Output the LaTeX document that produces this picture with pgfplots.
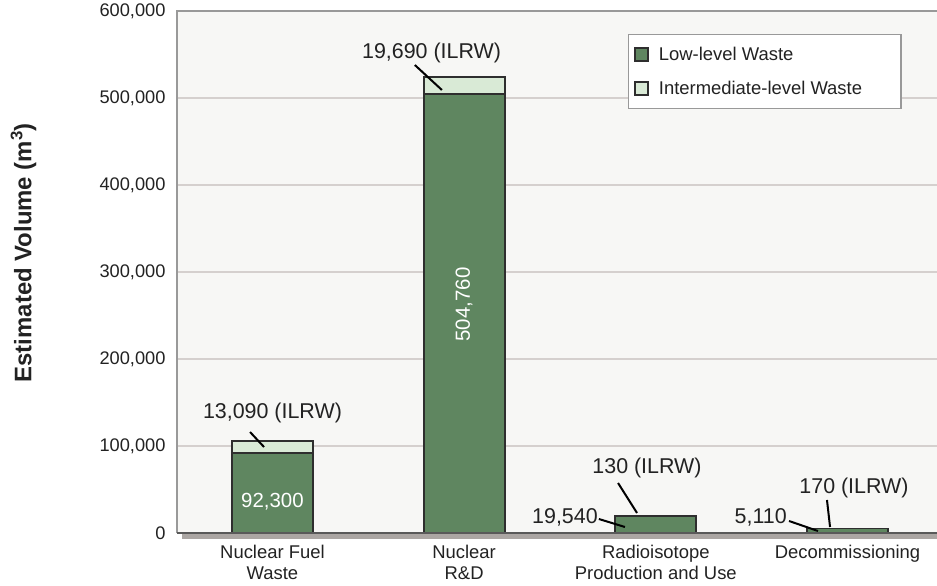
\documentclass[border=0pt]{standalone}
\usepackage{pgfplots}
\pgfplotsset{compat=1.18}
\usepackage{fontspec}
\setmainfont{Liberation Sans}
\definecolor{lowc}{HTML}{5F8660}
\definecolor{intc}{HTML}{D9EAD6}
\definecolor{edgec}{HTML}{2E2E2E}
\definecolor{bgc}{HTML}{F7F7F5}
\definecolor{gridc}{HTML}{D5D0CE}
\definecolor{txtc}{HTML}{222222}
\definecolor{framec}{HTML}{999999}
\definecolor{shadc}{HTML}{ABA6A3}
\newcommand{\anno}{\fontsize{21.5}{24}\selectfont}
\pgfplotsset{myannot/.style={after end axis/.code={
% frame
\fill[shadc] ([yshift=-1bp]rel axis cs:0.0066,0) rectangle ([yshift=-6bp]rel axis cs:1,0);
\draw[framec, line width=2bp] (rel axis cs:0,0) -- (rel axis cs:0,1) -- (rel axis cs:1,1);
\draw[black!65, line width=2bp] (rel axis cs:0,0) -- (rel axis cs:1,0);
% in-bar labels
\node[white, font=\fontsize{20.5}{24}\selectfont] at (axis cs:0,35600) {92,300};
\node[white, rotate=90, font=\fontsize{20.5}{24}\selectfont] at (axis cs:1,262600) {504,760};
% annotations
\node[text=txtc, font=\anno] at (axis cs:0,137900) {13,090 (ILRW)};
\draw[black, line width=2bp] (axis cs:-0.117,116100) -- (axis cs:-0.044,98850);
\node[text=txtc, font=\anno] at (axis cs:0.83,551700) {19,690 (ILRW)};
\draw[black, line width=2bp] (axis cs:0.743,537900) -- (axis cs:0.884,509200);
\node[text=txtc, font=\anno] at (axis cs:1.954,74700) {130 (ILRW)};
\draw[black, line width=2bp] (axis cs:1.803,57470) -- (axis cs:1.902,22990);
\node[text=txtc, font=\anno, anchor=east, inner sep=0pt] at (axis cs:1.698,18390) {19,540};
\draw[black, line width=2bp] (axis cs:1.703,16090) -- (axis cs:1.839,6900);
\node[text=txtc, font=\anno, anchor=east, inner sep=0pt] at (axis cs:2.684,18390) {5,110};
\draw[black, line width=2bp] (axis cs:2.695,13800) -- (axis cs:2.846,2300);
\node[text=txtc, font=\anno] at (axis cs:3.034,51700) {170 (ILRW)};
\draw[black, line width=2bp] (axis cs:2.893,37930) -- (axis cs:2.909,6900);
}}}
\begin{document}
\begin{tikzpicture}
\useasboundingbox (-177bp,-53bp) rectangle (760bp,533bp);
\begin{axis}[
  at={(0,0)}, anchor=south west,
  scale only axis, width=760bp, height=522bp,
  xmin=-0.498, xmax=3.467, ymin=0, ymax=600000,
  ybar stacked, bar width=81bp,
  clip=false,
  axis background/.style={fill=bgc},
  axis line style={draw=none},
  major tick length=0pt,
  tick style={draw=none},
  ymajorgrids, grid style={color=gridc, line width=1.3bp},
  ytick={0,100000,200000,300000,400000,500000,600000},
  yticklabels={0,{100,000},{200,000},{300,000},{400,000},{500,000},{600,000}},
  scaled y ticks=false,
  yticklabel style={font=\fontsize{18.3}{21}\selectfont, text=txtc, xshift=-8bp},
  xtick={0,1,2,3},
  xticklabels={Nuclear Fuel\\Waste, Nuclear\\R\&D, Radioisotope\\Production and Use, Decommissioning},
  xticklabel style={font=\fontsize{18.5}{20.5}\selectfont, text=txtc, align=center, anchor=north, yshift=-9bp},
  ylabel={Estimated Volume (m\textsuperscript{3})},
  ylabel style={at={(axis description cs:-0.202,0.537)}, anchor=center, font=\bfseries\fontsize{24}{28}\selectfont, text=txtc},
  legend style={at={(0.593,0.956)}, anchor=north west, draw=framec, line width=1.5bp, fill=white,
    font=\fontsize{18.5}{21}\selectfont, text=txtc, row sep=15bp, inner xsep=6bp, inner ysep=10.5bp},
  legend cell align=left,
  myannot,
]
\addplot[fill=lowc, draw=edgec, line width=1.8bp,
  legend image code/.code={\draw[fill=lowc, draw=edgec, line width=1.5bp] (0bp,-6.5bp) rectangle (13bp,6.5bp);}]
  coordinates {(0,92300) (1,504760) (2,19540) (3,5110)};
\addlegendentry{\makebox[242bp][l]{\hspace*{8bp}Low-level Waste}}
\addplot[fill=intc, draw=edgec, line width=1.8bp,
  legend image code/.code={\draw[fill=intc, draw=edgec, line width=1.5bp] (0bp,-6.5bp) rectangle (13bp,6.5bp);}]
  coordinates {(0,13090) (1,19690) (2,130) (3,170)};
\addlegendentry{\makebox[242bp][l]{\hspace*{8bp}Intermediate-level Waste}}
\end{axis}
\end{tikzpicture}
\end{document}
